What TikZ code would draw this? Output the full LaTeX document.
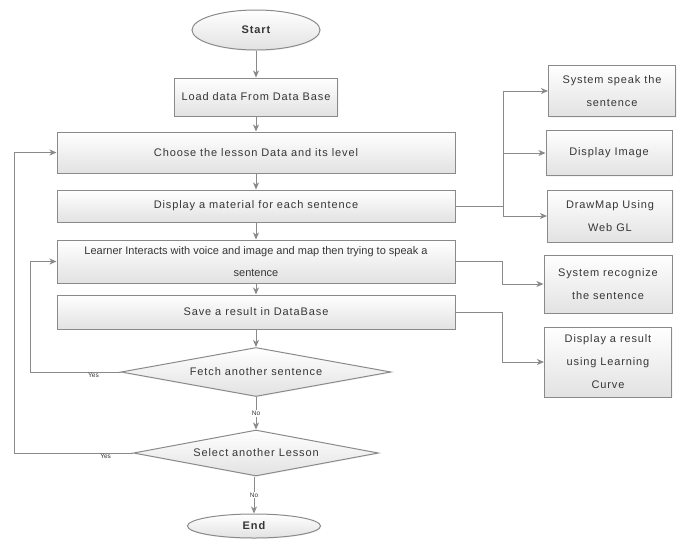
\documentclass[tikz,border=0pt]{standalone}
\usepackage{fontspec}
\setmainfont{Liberation Sans}[LetterSpace=8]
\newfontfamily\plainfont{Liberation Sans}
\usetikzlibrary{shapes.geometric,shadows,arrows.meta}
\definecolor{edgegray}{HTML}{8A8A8A}
\definecolor{txtgray}{HTML}{363636}
\definecolor{fillgray}{HTML}{E2E2E2}
\tikzset{
  base/.style={draw=edgegray, line width=1pt, top color=white, bottom color=fillgray,
    text=txtgray, font=\fontsize{11}{23}\selectfont, align=center, inner sep=2pt,
    drop shadow={opacity=0.08, shadow xshift=1pt, shadow yshift=-1pt}},
  procbox/.style={base, rectangle},
  termbox/.style={base, ellipse, font=\fontsize{11}{13}\selectfont\bfseries},
  decbox/.style={base, diamond, aspect=5.5, inner sep=0pt},
  arr/.style={draw=edgegray, line width=1pt, -{Stealth[length=7pt,width=6pt,inset=2pt]}},
  lbl/.style={font=\plainfont\fontsize{6.5}{7}\selectfont, text=txtgray, inner sep=1pt}
}
\begin{document}
\begin{tikzpicture}[x=1pt,y=-1pt]
    \useasboundingbox (0,0) rectangle (680,539);
    % main column
    \node[termbox, minimum width=128pt, minimum height=40pt] (start) at (256,30) {Start};
    \node[procbox, minimum width=163pt, minimum height=38pt] (load) at (256,97) {Load data From Data Base};
    \node[procbox, minimum width=398pt, minimum height=41pt] (choose) at (256,152.5) {Choose the lesson Data and its level};
    \node[procbox, minimum width=398pt, minimum height=32pt] (display) at (256,206) {Display a material for each sentence};
    \node[procbox, minimum width=398pt, minimum height=43pt, font=\plainfont\fontsize{11}{22}\selectfont] (learner) at (256,261.5) {Learner Interacts with voice and image and map then trying to speak a\\sentence};
    \node[procbox, minimum width=398pt, minimum height=34pt] (save) at (256,312) {Save a result in DataBase};
    \node[decbox, minimum width=270pt, minimum height=49pt] (fetch) at (256,372) {Fetch another sentence};
    \node[decbox, minimum width=245pt, minimum height=46pt] (select) at (256,453) {Select another Lesson};
    \node[termbox, minimum width=133pt, minimum height=24pt] (end) at (254,526) {End};
    % right column
    \node[procbox, minimum width=127pt, minimum height=51pt] (speak) at (612,91) {System speak the\\sentence};
    \node[procbox, minimum width=126pt, minimum height=45pt] (image) at (609,153) {Display Image};
    \node[procbox, minimum width=125pt, minimum height=52pt] (drawmap) at (610,216) {DrawMap Using\\Web GL};
    \node[procbox, minimum width=128pt, minimum height=58pt] (recog) at (608,284) {System recognize\\the sentence};
    \node[procbox, minimum width=127pt, minimum height=70pt] (result) at (608,362) {Display a result\\using Learning\\Curve};
    % flow
    \draw[arr] (start) -- (load);
    \draw[arr] (load) -- (choose);
    \draw[arr] (choose) -- (display);
    \draw[arr] (display) -- (learner);
    \draw[arr] (learner) -- (save);
    \draw[arr] (save) -- (fetch);
    \draw[arr] (fetch) -- node[lbl, fill=white] {No} (select);
    \draw[arr] (select.south -| end.north) -- node[lbl, fill=white] {No} (end.north);
    % branches
    \draw[arr] (display.east) -- ++(48,0) |- (speak.west);
    \draw[arr] (display.east) -- ++(48,0) |- (image.west);
    \draw[arr] (display.east) -- ++(48,0) |- (drawmap.west);
    \draw[arr] (learner.east) -- ++(47,0) |- (recog.west);
    \draw[arr] (save.east) -- ++(47,0) |- (result.west);
    % loops back
    \draw[arr] (fetch.west) -- node[lbl, pos=0.3, anchor=north] {Yes} ++(-90,0) |- (learner.west);
    \draw[arr] (select.west) -- node[lbl, pos=0.23, anchor=north] {Yes} ++(-119,0) |- (choose.west);
\end{tikzpicture}
\end{document}
